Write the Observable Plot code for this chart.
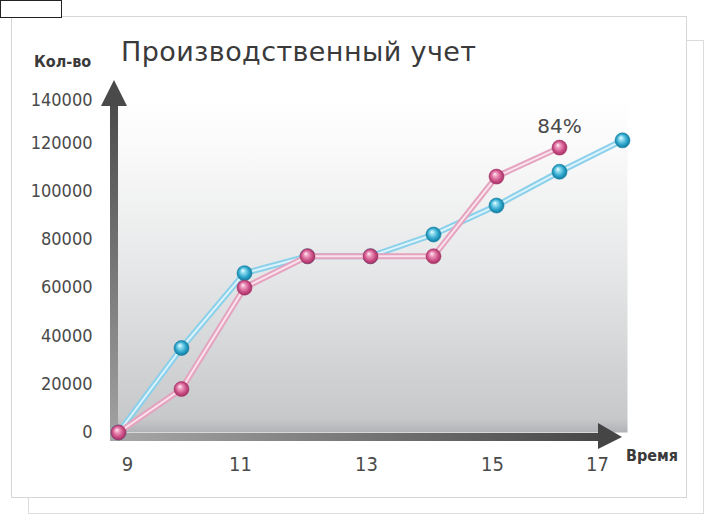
<!DOCTYPE html>
<html><head><meta charset="utf-8">
<script src="https://cdn.jsdelivr.net/npm/d3@7"></script>
<script src="https://cdn.jsdelivr.net/npm/@observablehq/plot@0.6"></script>
<style>
body{margin:0;background:#fff;}
#wrap{position:relative;width:708px;height:515px;overflow:hidden;background:#fff;}
#wrap svg{position:absolute;left:0;top:0;}
.panel{position:absolute;box-sizing:border-box;background:#fff;}
</style></head><body><div id="wrap">
<div class="panel" style="left:28px;top:40px;width:676px;height:474px;border:1px solid #dcdcdc;"></div>
<div class="panel" style="left:11px;top:16px;width:676px;height:482px;border:1px solid #d6d6d6;"></div>
<div class="panel" style="left:0;top:0;width:62px;height:18px;border:1px solid #222;"></div>
</div>
<script>
// ---- data ----
const hours = [9, 10, 11, 12, 13, 14, 15, 16, 17];
const blueValues = [0, 35000, 66000, 73000, 73000, 82000, 94000, 108000, 121000];
const pinkValues = [0, 18000, 60000, 73000, 73000, 73000, 106000, 118000];
const xTicksFirst = [9];
const xTicksMiddle = [11, 13, 15];
const xTicksLast = [17];
const yTicks = [0, 20000, 40000, 60000, 80000, 100000, 120000];
const yTickTop = [140000];
const titleText = "Производственный учет";
const yLabelText = "Кол-во";
const xLabelText = "Время";
const noteText = "84%";

const blue = blueValues.map((v, i) => ({h: hours[i], v}));
const pink = pinkValues.map((v, i) => ({h: hours[i], v}));
const lastPink = [pink[pink.length - 1]];

const tickFont = "'DejaVu Sans Condensed', 'DejaVu Sans', sans-serif";
const xAxisStyle = {tickSize: 0, tickPadding: 24, label: null, tickFormat: d => String(d), fill: "#4a4a4a", fontSize: 20};
const yAxisStyle = {tickSize: 0, tickPadding: 26, label: null, tickFormat: d => String(d), fill: "#4a4a4a"};

const plot = Plot.plot({
  width: 708, height: 515,
  marginLeft: 118, marginRight: 86, marginTop: 94, marginBottom: 83,
  style: {background: "transparent", fontFamily: tickFont, fontSize: "18px", color: "#444", overflow: "visible"},
  x: {domain: [9, 17]},
  y: {domain: [0, 140000]},
  marks: [
    Plot.frame({fill: "url(#bgGrad)", stroke: null, insetLeft: -4, insetRight: -5}),
    Plot.axisY({...yAxisStyle, ticks: yTicks}),
    Plot.axisY({...yAxisStyle, ticks: yTickTop, dy: 6}),
    Plot.axisX({...xAxisStyle, ticks: xTicksFirst, dx: 9}),
    Plot.axisX({...xAxisStyle, ticks: xTicksMiddle, dx: -4}),
    Plot.axisX({...xAxisStyle, ticks: xTicksLast, dx: -25}),
    Plot.line(blue, {x: "h", y: "v", stroke: "#8ad0ea", strokeWidth: 6}),
    Plot.line(blue, {x: "h", y: "v", stroke: "#ddf3fb", strokeWidth: 2}),
    Plot.dot(blue, {x: "h", y: "v", r: 7.5, fill: "url(#gBlue)", stroke: "#137fa3", strokeWidth: 0.6}),
    Plot.line(pink, {x: "h", y: "v", stroke: "#e4a3be", strokeWidth: 6}),
    Plot.line(pink, {x: "h", y: "v", stroke: "#fae3ec", strokeWidth: 2}),
    Plot.dot(pink, {x: "h", y: "v", r: 7.5, fill: "url(#gPink)", stroke: "#a8376a", strokeWidth: 0.6}),
    Plot.text(lastPink, {x: "h", y: "v", text: () => noteText, dy: -21, fontSize: 20, fill: "#4a4a4a", fontFamily: "'DejaVu Sans', sans-serif"})
  ]
});

document.getElementById("wrap").appendChild(plot);

const svg = d3.select(plot);
const defs = svg.insert("defs", ":first-child");
const bg = defs.append("linearGradient").attr("id", "bgGrad").attr("x1", 0).attr("y1", 0).attr("x2", 0).attr("y2", 1);
[[0, "#ffffff"], [0.15, "#fafafa"], [0.5, "#e7e8e9"], [0.96, "#c6c8ca"], [1, "#b0b2b5"]].forEach(([o, c]) => bg.append("stop").attr("offset", o).attr("stop-color", c));
function sphere(id, stops) {
  const g = defs.append("radialGradient").attr("id", id).attr("cx", "0.5").attr("cy", "0.5").attr("r", "0.55").attr("fx", "0.38").attr("fy", "0.32");
  stops.forEach(([o, c]) => g.append("stop").attr("offset", o).attr("stop-color", c));
}
sphere("gBlue", [[0, "#f4fdff"], [0.25, "#8fdcf0"], [0.65, "#2aa3c9"], [1, "#0f6f92"]]);
sphere("gPink", [[0, "#fff2f8"], [0.25, "#ef9fc2"], [0.65, "#cc4f86"], [1, "#95295a"]]);
const ya = defs.append("linearGradient").attr("id", "yAxisGrad").attr("x1", 0).attr("y1", 0).attr("x2", 0).attr("y2", 1);
[[0, "#4c4c4c"], [1, "#a3a3a3"]].forEach(([o, c]) => ya.append("stop").attr("offset", o).attr("stop-color", c));
const xa = defs.append("linearGradient").attr("id", "xAxisGrad").attr("x1", 0).attr("y1", 0).attr("x2", 1).attr("y2", 0);
[[0, "#a8a8a8"], [1, "#474747"]].forEach(([o, c]) => xa.append("stop").attr("offset", o).attr("stop-color", c));

// axis arrows drawn from the plot's own scales
const xs = plot.scale("x"), ys = plot.scale("y");
const x0 = xs.apply(9), x1 = xs.apply(17), y0 = ys.apply(0), yTop = ys.apply(140000);
const frame = plot.querySelector('[aria-label="frame"]');
const arrows = d3.create("svg:g").attr("aria-label", "axis arrows");
arrows.append("rect").attr("x", x0 - 8).attr("y", yTop + 10).attr("width", 8).attr("height", y0 - yTop - 2).attr("fill", "url(#yAxisGrad)");
arrows.append("path").attr("d", `M${x0 - 17},${yTop + 12}L${x0 + 9},${yTop + 12}L${x0 - 4},${yTop - 14}Z`).attr("fill", "#4a4a4a");
arrows.append("rect").attr("x", x0 - 8).attr("y", y0 + 1).attr("width", x1 - x0 - 14).attr("height", 8).attr("fill", "url(#xAxisGrad)");
arrows.append("path").attr("d", `M${x1 - 24},${y0 - 9}L${x1 - 24},${y0 + 17}L${x1},${y0 + 5}Z`).attr("fill", "#454545");
frame.after(arrows.node());

// titles
const labels = svg.append("g").attr("text-anchor", "start");
labels.append("text").attr("x", 121).attr("y", 61).text(titleText)
  .attr("font-family", "'DejaVu Sans', sans-serif").attr("font-size", 27).attr("letter-spacing", 0.4).attr("fill", "#3a3a3a");
labels.append("text").attr("x", 34).attr("y", 67).text(yLabelText)
  .attr("font-family", tickFont).attr("font-size", 16).attr("font-weight", "bold").attr("fill", "#3a3a3a");
labels.append("text").attr("x", 626).attr("y", 461).text(xLabelText)
  .attr("font-family", tickFont).attr("font-size", 16).attr("font-weight", "bold").attr("fill", "#3a3a3a");
</script>
</body></html>
